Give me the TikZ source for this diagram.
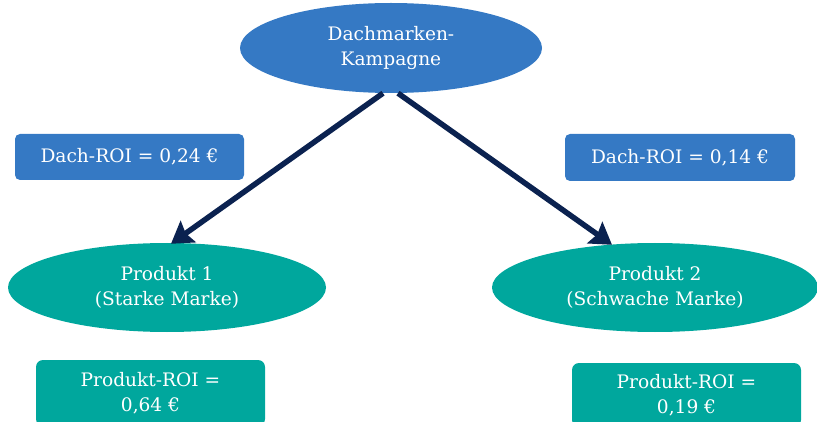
\documentclass[tikz,border=0pt]{standalone}
\usepackage{fontspec}
\setmainfont{DejaVu Serif}
\usetikzlibrary{shapes.geometric,arrows.meta}
\definecolor{capblue}{HTML}{3579C4}
\definecolor{prodteal}{HTML}{00A79D}
\definecolor{navy}{HTML}{0B2250}
\tikzset{
  x=1pt, y=1pt,
  label text/.style={text=white, font=\fontsize{18.6}{25}\selectfont, align=center, inner sep=0pt},
  capoval/.style={ellipse, fill=capblue, label text},
  prodoval/.style={ellipse, fill=prodteal, label text},
  roibox/.style={rectangle, rounded corners=5pt, fill=capblue, label text},
  prodbox/.style={rectangle, rounded corners=7pt, fill=prodteal, label text},
  link/.style={draw=navy, line width=5.5pt, -{Stealth[length=21pt,width=26pt,inset=3pt]}}
}
\begin{document}
\begin{tikzpicture}
\useasboundingbox (0,0) rectangle (817,421);
\clip (0,0) rectangle (817,421);
\node[capoval, minimum width=302pt, minimum height=90pt] (camp) at (391,373) {Dachmarken-\\Kampagne};
\node[roibox, minimum width=229pt, minimum height=46pt] (roiL) at (129.5,264) {Dach-ROI = 0,24 €};
\node[roibox, minimum width=230pt, minimum height=47pt] (roiR) at (680,263.5) {Dach-ROI = 0,14 €};
\node[prodoval, minimum width=318pt, minimum height=89pt] (p1) at (167,133.5) {Produkt 1\\(Starke Marke)};
\node[prodoval, minimum width=326pt, minimum height=89pt] (p2) at (655,133.5) {Produkt 2\\(Schwache Marke)};
\node[prodbox, minimum width=229pt, minimum height=66pt] (pr1) at (150.5,28) {Produkt-ROI =\\0,64 €};
\node[prodbox, minimum width=229pt, minimum height=64pt] (pr2) at (686.5,26) {Produkt-ROI =\\0,19 €};
\draw[link] ([xshift=-8pt]camp.south) -- ([xshift=4pt,yshift=-1pt]p1.north);
\draw[link] ([xshift=7pt]camp.south) -- ([xshift=-43pt,yshift=-2pt]p2.north);
\end{tikzpicture}
\end{document}
